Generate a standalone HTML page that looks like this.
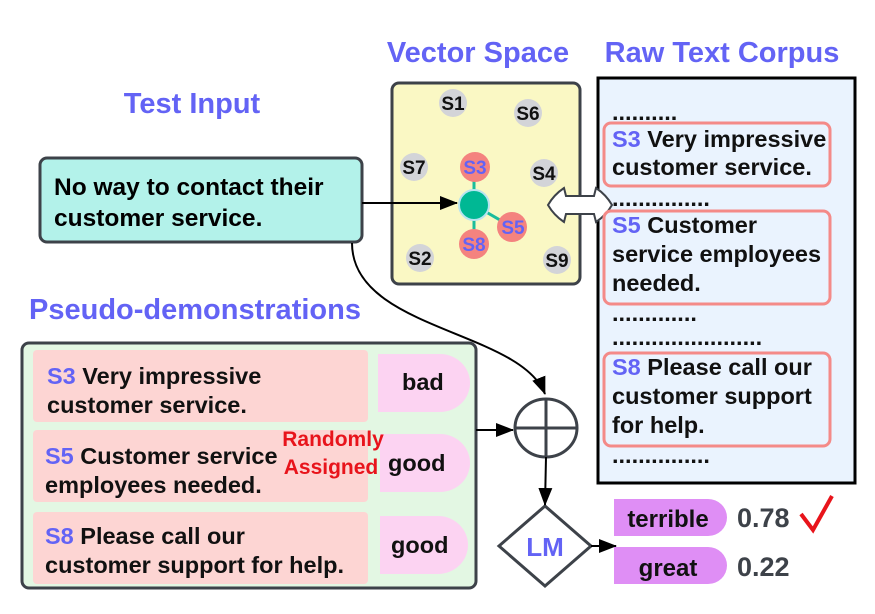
<html><body style="margin:0;background:#fff">
<svg width="875" height="614" xmlns="http://www.w3.org/2000/svg" font-family="Liberation Sans, sans-serif" font-weight="bold">
<defs><marker id="b" markerWidth="18" markerHeight="14" refX="17" refY="7" orient="auto" markerUnits="userSpaceOnUse"><path d="M0,0 L18,7 L0,14z" fill="#000"/></marker></defs>
<g fill="#6363f5" font-size="29" text-anchor="middle">
<text x="478" y="62">Vector Space</text><text x="722" y="62">Raw Text Corpus</text>
<text x="192" y="113">Test Input</text><text x="195" y="319">Pseudo-demonstrations</text></g>
<rect x="40" y="158" width="322" height="84" rx="7" fill="#b3f2ea" stroke="#3d4249" stroke-width="3"/>
<text x="54" y="195" font-size="24.5">No way to contact their</text><text x="54" y="226" font-size="24.5">customer service.</text>
<rect x="392" y="83" width="188" height="201" rx="7" fill="#faf8c4" stroke="#3d4249" stroke-width="3"/>
<g stroke="#1abc9c" stroke-width="3"><line x1="474" y1="205" x2="474" y2="167"/><line x1="474" y1="205" x2="512" y2="227"/><line x1="474" y1="205" x2="474" y2="244"/></g>
<g font-size="19" text-anchor="middle">
<g fill="#d3d4d8"><circle cx="453" cy="103" r="14"/><circle cx="528" cy="113" r="14"/><circle cx="414" cy="167" r="14"/><circle cx="544" cy="173" r="14"/><circle cx="420" cy="258" r="14"/><circle cx="557" cy="260" r="14"/></g>
<g fill="#f4837f"><circle cx="475" cy="167" r="15"/><circle cx="512" cy="227" r="15"/><circle cx="474" cy="244" r="15"/></g>
<circle cx="474" cy="205" r="15" fill="#00b894" stroke="#b8e4f0" stroke-width="2"/>
<g fill="#111"><text x="453" y="110">S1</text><text x="528" y="120">S6</text><text x="414" y="174">S7</text><text x="544" y="180">S4</text><text x="420" y="265">S2</text><text x="557" y="267">S9</text></g>
<g fill="#6363f5"><text x="475" y="174">S3</text><text x="513" y="234">S5</text><text x="474" y="251">S8</text></g></g>
<line x1="362" y1="203" x2="457" y2="203" stroke="#000" stroke-width="2" marker-end="url(#b)"/>
<rect x="598" y="78" width="257" height="405" fill="#eaf3fe" stroke="#000" stroke-width="3"/>
<path d="M548,205 C552,198 558,192 564,188 L566,196 L594,196 L596,188 C602,192 608,198 612,205 C608,212 602,218 596,222 L594,214 L566,214 L564,222 C558,218 552,212 548,205Z" fill="#fff" stroke="#3d4249" stroke-width="2"/>
<g font-size="23.5" fill="#111">
<text x="612" y="120">..........</text><text x="612" y="206">...............</text>
<text x="612" y="321">.............</text><text x="612" y="345">.......................</text><text x="612" y="463">...............</text>
<g fill="none" stroke="#f48a88" stroke-width="3"><rect x="604" y="123" width="226" height="63" rx="7"/><rect x="604" y="211" width="226" height="93" rx="7"/><rect x="604" y="353" width="226" height="93" rx="7"/></g>
<text x="612" y="147"><tspan fill="#6363f5">S3</tspan> Very impressive</text><text x="612" y="175">customer service.</text>
<text x="612" y="233"><tspan fill="#6363f5">S5</tspan>  Customer</text><text x="612" y="262">service employees</text><text x="612" y="291">needed.</text>
<text x="612" y="375"><tspan fill="#6363f5">S8</tspan> Please call our</text><text x="612" y="404">customer support</text><text x="612" y="433">for help.</text></g>
<path d="M352,243 C352,330 520,330 545,394" fill="none" stroke="#000" stroke-width="2" marker-end="url(#b)"/>
<rect x="22" y="343" width="454" height="245" rx="7" fill="#e3f7e3" stroke="#3d4249" stroke-width="3"/>
<g fill="#fdd5d3"><rect x="33" y="350" width="335" height="72" rx="4"/><rect x="33" y="430" width="335" height="72" rx="4"/><rect x="33" y="512" width="335" height="72" rx="4"/></g>
<g fill="#fcd3f2"><path d="M378,354 H440 A30,29 0 0 1 440,412 H378Z"/><path d="M380,434 H440 A30,29 0 0 1 440,492 H380Z"/><path d="M380,516 H438 A30,29 0 0 1 438,574 H380Z"/></g>
<g font-size="23.5" fill="#111">
<text x="47" y="384"><tspan fill="#6363f5">S3</tspan> Very impressive</text><text x="47" y="413">customer service.</text>
<text x="45" y="464"><tspan fill="#6363f5">S5</tspan> Customer service</text><text x="45" y="493">employees needed.</text>
<text x="45" y="544"><tspan fill="#6363f5">S8</tspan> Please call our</text><text x="45" y="573">customer support for help.</text>
<text x="402" y="390">bad</text><text x="388" y="471">good</text><text x="391" y="553">good</text></g>
<g fill="#e8141b" font-size="21" text-anchor="middle"><text x="333" y="446">Randomly</text><text x="331" y="474">Assigned</text></g>
<line x1="476" y1="430" x2="513" y2="430" stroke="#000" stroke-width="2" marker-end="url(#b)"/>
<g stroke="#3d4249" stroke-width="3" fill="none"><ellipse cx="546" cy="428" rx="31" ry="29"/><line x1="515" y1="428" x2="577" y2="428"/><line x1="546" y1="399" x2="546" y2="457"/>
<path d="M545,506 L591,546 L545,586 L499,546Z" fill="#fff"/></g>
<line x1="546" y1="457" x2="545" y2="505" stroke="#000" stroke-width="2" marker-end="url(#b)"/>
<text x="545" y="556" font-size="26" fill="#6363f5" text-anchor="middle">LM</text>
<line x1="591" y1="546" x2="616" y2="546" stroke="#000" stroke-width="2" marker-end="url(#b)"/>
<g fill="#df8ef5"><path d="M614,499 H708 A19,18.5 0 0 1 708,536 H614Z"/><path d="M614,547 H708 A19,18.5 0 0 1 708,584 H614Z"/></g>
<g font-size="24" fill="#111" text-anchor="middle"><text x="668" y="527">terrible</text><text x="668" y="576">great</text></g>
<g font-size="27" fill="#3d4249"><text x="737" y="527">0.78</text><text x="737" y="576">0.22</text></g>
<path d="M801,514 L813,530 L832,496" fill="none" stroke="#e8141b" stroke-width="4"/>
</svg></body></html>
